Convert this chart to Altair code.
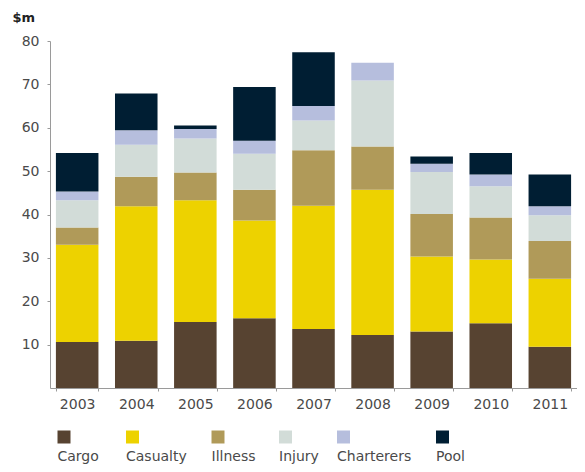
import altair as alt
import pandas as pd

years = ["2003", "2004", "2005", "2006", "2007", "2008", "2009", "2010", "2011"]
series = ["Cargo", "Casualty", "Illness", "Injury", "Charterers", "Pool"]
cargo = [10.6, 10.9, 15.2, 16.1, 13.6, 12.2, 13.0, 14.9, 9.5]
casualty = [22.4, 31.0, 28.1, 22.5, 28.4, 33.5, 17.3, 14.7, 15.7]
illness = [4.0, 6.8, 6.4, 7.1, 12.8, 10.0, 9.8, 9.7, 8.7]
injury = [6.3, 7.4, 7.8, 8.3, 6.9, 15.2, 9.7, 7.2, 5.9]
charterers = [2.0, 3.3, 2.2, 3.0, 3.3, 4.1, 1.9, 2.7, 2.1]
pool = [8.9, 8.5, 0.8, 12.4, 12.4, 0.0, 1.7, 5.0, 7.3]
colors = ["#574331", "#EDD200", "#B09A59", "#D2DCD8", "#B6BEDD", "#001E33"]
y_ticks = [10, 20, 30, 40, 50, 60, 70, 80]

values_by_series = [cargo, casualty, illness, injury, charterers, pool]
rows = []
for i, (name, vals) in enumerate(zip(series, values_by_series)):
    for y, v in zip(years, vals):
        rows.append({"year": y, "series": name, "idx": i, "value": v})
df = pd.DataFrame(rows)

FONT = "DejaVu Sans"
AXIS_GRAY = "#9a9a9a"
LABEL_GRAY = "#4a4a4a"

color_scale = alt.Scale(domain=series, range=colors)

bars = alt.Chart(df).mark_bar().encode(
    x=alt.X(
        "year:N",
        sort=years,
        scale=alt.Scale(paddingInner=0.28, paddingOuter=0.1),
        axis=alt.Axis(
            title=None, tickBand="extent", tickSize=3, labelPadding=6,
            labelAngle=0, domainColor=AXIS_GRAY, tickColor=AXIS_GRAY,
            labelColor=LABEL_GRAY, labelFontSize=14, labelFont=FONT,
        ),
    ),
    y=alt.Y(
        "value:Q",
        stack="zero",
        scale=alt.Scale(domain=[0, 80], nice=False),
        axis=alt.Axis(
            values=y_ticks, grid=False, tickSize=3, labelPadding=8,
            domainColor=AXIS_GRAY, tickColor=AXIS_GRAY,
            labelColor=LABEL_GRAY, labelFontSize=14, labelFont=FONT,
            title="$m", titleAngle=0, titleAlign="left",
            titleBaseline="alphabetic", titleX=-38, titleY=-20,
            titleFont=FONT, titleFontSize=13, titleFontWeight="bold",
            titleColor="#222222",
        ),
    ),
    color=alt.Color("series:N", scale=color_scale, legend=None),
    order=alt.Order("idx:Q"),
).properties(width=527, height=347)

leg_df = pd.DataFrame({"series": series, "idx": list(range(len(series)))})
# legend guide layout: piecewise scale placing each legend entry
leg_x = alt.X("idx:Q", axis=None,
              scale=alt.Scale(domain=[0, 1, 2, 3, 4, 5],
                              range=[14, 82.5, 168, 235.5, 293.5, 392.5]))
leg_sq = alt.Chart(leg_df).mark_square(size=169, opacity=1).encode(
    x=leg_x,
    color=alt.Color("series:N", scale=color_scale, legend=None),
)
leg_tx = alt.Chart(leg_df).mark_text(
    align="left", baseline="middle", dx=-6.5, dy=20,
    font=FONT, fontSize=14, color=LABEL_GRAY,
).encode(x=leg_x, text="series:N")
legend = alt.layer(leg_sq, leg_tx).properties(width=527, height=14)

chart = alt.vconcat(bars, legend, spacing=19).properties(
    padding={"left": 4, "top": 3, "right": 0, "bottom": 0}
).configure_view(stroke=None)

chart.save("out.html", embed_options={"renderer": "svg", "actions": False})
